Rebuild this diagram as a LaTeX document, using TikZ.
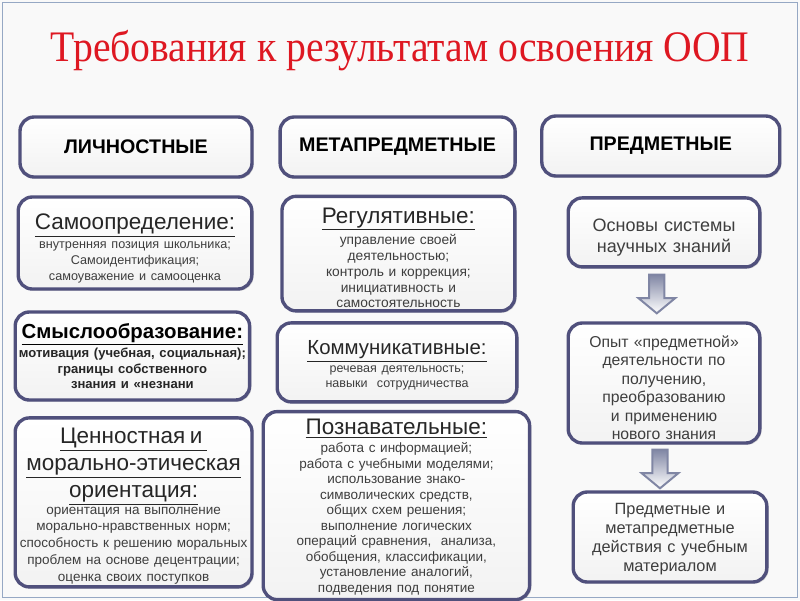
\documentclass[tikz,border=0pt]{standalone}
\usepackage{fontspec}
\setmainfont{Liberation Sans}
\newfontfamily\titlefont{Liberation Serif}
\usepackage{tikz}
\usetikzlibrary{positioning,shadows,calc}
\definecolor{oop_navy}{RGB}{80, 80, 124}
\definecolor{oop_red}{RGB}{222, 24, 34}
\definecolor{oop_dark}{RGB}{38, 38, 38}
\definecolor{oop_text}{RGB}{62, 62, 62}
\definecolor{oop_bg}{RGB}{249, 249, 249}
\definecolor{oop_frame}{RGB}{150, 168, 196}
\definecolor{oop_arrow}{RGB}{128, 134, 164}
\newcommand{\boxhead}[2][16]{{\fontsize{#1}{#1pt+3pt}\selectfont\color{oop_dark}\underline{#2}\par}\vspace{2pt}}
\newcommand{\boxlines}[3][11.4]{{\fontsize{#2}{#1}\selectfont\color{oop_text}#3\par}}

\begin{document}
\begin{tikzpicture}[
  box/.style={rounded corners=10pt,draw=oop_navy,line width=2.4pt,
              top color=white,bottom color=gray!10,inner sep=2pt,align=center,
              drop shadow={shadow xshift=1.2pt,shadow yshift=-1.2pt,opacity=0.3}},
  pad/.style={execute at begin node={\rule{0pt}{#1}}},
  headbox/.style={box,minimum height=1.5cm,
              font=\fontsize{14}{16}\selectfont\bfseries},
  blockarr/.style={draw=oop_arrow,line width=1.4pt,line join=miter,
              top color=oop_arrow,bottom color=white}
]
\useasboundingbox (0,0) rectangle (20,-15);
\fill[oop_bg] (0,0) rectangle (20,-15);
\draw[oop_frame,line width=0.8pt] (0.06,-0.06) rectangle (19.94,-14.94);

\node[text=oop_red,font=\titlefont\fontsize{31}{36}\selectfont,xscale=0.91] (title) at (10,-1.27)
  {Требования к результатам освоения ООП};

% column headers
\node[headbox,minimum width=5.8cm] (lich) at (3.4,-3.675) {ЛИЧНОСТНЫЕ};
\node[headbox,minimum width=5.875cm] (meta) at (9.94,-3.675) {МЕТАПРЕДМЕТНЫЕ};
\node[headbox,minimum width=5.95cm] (pred) at (16.52,-3.65) {ПРЕДМЕТНЫЕ};

% personal results
\node[box,pad=19pt,text width=5.7cm,minimum height=2.3cm] (samo) at (3.375,-6.075)
  {\boxhead{Самоопределение:}
   \boxlines{9}{внутренняя позиция школьника;\\Самоидентификация;\\самоуважение и самооценка}};
\node[box,text width=5.72cm,minimum height=2.2cm] (smysl) at (3.31,-8.9)
  {{\fontsize{14.5}{17}\selectfont\bfseries\color{black}\underline{Смыслообразование:}\par}\vspace{1pt}
   {\fontsize{9.3}{11}\selectfont\bfseries\color{oop_dark}\makebox[\linewidth]{мотивация (учебная, социальная);}\\границы собственного\\знания и «незнани\par}};
\node[box,pad=16pt,text width=5.78cm,minimum height=4.225cm] (cenn) at (3.34,-12.56)
  {{\fontsize{16}{19.2}\selectfont\color{oop_dark}\underline{Ценностная и\ }\\\underline{морально-этическая}\\\underline{ориентация:}\par}
   \boxlines[11.9]{9.6}{ориентация на выполнение\\морально-нравственных норм;\\способность к решению моральных\\проблем на основе децентрации;\\оценка своих поступков}};

% meta-subject results
\node[box,pad=17pt,text width=5.68cm,minimum height=2.825cm] (reg) at (9.96,-6.34)
  {\boxhead{Регулятивные:}
   \boxlines[11.2]{9.8}{управление своей\\деятельностью;\\контроль и коррекция;\\инициативность и\\самостоятельность}};
\node[box,pad=14.5pt,text width=5.85cm,minimum height=1.975cm] (komm) at (9.925,-9.06)
  {\boxhead[14.5]{Коммуникативные:}
   \boxlines[10.7]{8.9}{речевая деятельность;\\навыки \ сотрудничества}};
\node[box,pad=13pt,text width=6.52cm,minimum height=4.7cm] (pozn) at (9.91,-12.64)
  {\boxhead{Познавательные:}
   \boxlines[11]{9.6}{работа с информацией;\\работа с учебными моделями;\\использование знако-\\символических средств,\\общих схем решения;\\выполнение логических\\операций сравнения, \ анализа,\\обобщения, классификации,\\установление аналогий,\\подведения под понятие}};

% subject results
\node[box,pad=16pt,text width=4.65cm,minimum height=1.725cm,font=\fontsize{12.8}{15}\selectfont,text=oop_text] (osn) at (16.6,-5.81)
  {Основы системы\\научных знаний};
\node[box,pad=15pt,text width=4.65cm,minimum height=3cm,font=\fontsize{11.2}{13.2}\selectfont,text=oop_text] (opyt) at (16.6,-9.575)
  {Опыт «предметной»\\деятельности по\\получению,\\преобразованию\\и применению\\нового знания};
\node[box,pad=11.5pt,text width=4.7cm,minimum height=2.25cm,font=\fontsize{11.6}{13.5}\selectfont,text=oop_text] (pm) at (16.75,-13.425)
  {Предметные и\\метапредметные\\действия с учебным\\материалом};

% block arrows between the subject boxes
\coordinate (a1s) at ($(osn.south)+(-0.18,-0.15)$);
\coordinate (a1e) at ($(opyt.north)+(-0.18,0.2)$);
\coordinate (a2s) at ($(opyt.south)+(-0.1,-0.12)$);
\coordinate (a2e) at ($(pm.north)+(-0.25,0.05)$);
\foreach \s/\e in {a1s/a1e,a2s/a2e}
  \draw[blockarr] let \p1=(\s), \p2=(\e) in
    (\x1-0.19cm,\y1) -- (\x1+0.19cm,\y1) -- (\x1+0.19cm,\y2+0.38cm)
    -- (\x1+0.46cm,\y2+0.38cm) -- (\x1,\y2) -- (\x1-0.46cm,\y2+0.38cm)
    -- (\x1-0.19cm,\y2+0.38cm) -- cycle;
\end{tikzpicture}
\end{document}
